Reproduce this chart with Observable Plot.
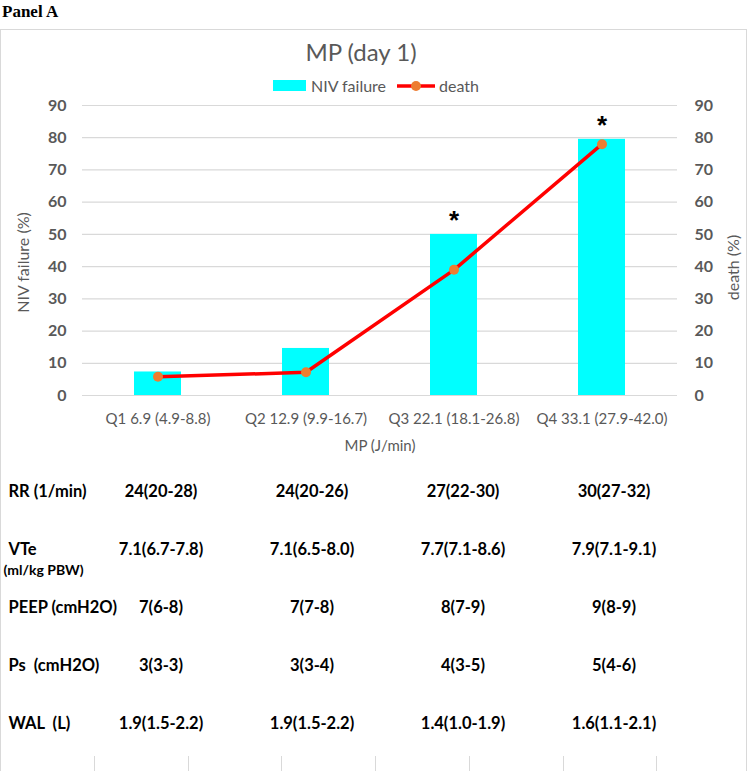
<!DOCTYPE html>
<html>
<head>
<meta charset="utf-8">
<script src="https://cdn.jsdelivr.net/npm/d3@7"></script>
<script src="https://cdn.jsdelivr.net/npm/@observablehq/plot@0.6"></script>
<style>
  body { margin: 0; background: #fff; }
  #root { position: relative; width: 750px; height: 771px; overflow: hidden; background: #fff; font-family: Lato, "Open Sans", sans-serif; }
  .abs { position: absolute; }
  svg { overflow: visible; }
  g[aria-label="y-axis tick label"] text { font-weight: bold; }
</style>
</head>
<body>
<div id="root"></div>
<script>
// ---- data ----
const categories = ["Q1 6.9 (4.9-8.8)", "Q2 12.9 (9.9-16.7)", "Q3 22.1 (18.1-26.8)", "Q4 33.1 (27.9-42.0)"];
const nivFailure = [7.3, 14.6, 50, 79.5];
const death = [5.8, 7.2, 39, 78];
const significance = ["", "", "*", "*"];
const yTicks = [0, 10, 20, 30, 40, 50, 60, 70, 80, 90];

const rowLabels = ["RR (1/min)", "VTe", "PEEP (cmH2O)", "Ps  (cmH2O)", "WAL  (L)"];
const rowSubLabels = ["", "(ml/kg PBW)", "", "", ""];
const rrValues = ["24(20-28)", "24(20-26)", "27(22-30)", "30(27-32)"];
const vteValues = ["7.1(6.7-7.8)", "7.1(6.5-8.0)", "7.7(7.1-8.6)", "7.9(7.1-9.1)"];
const peepValues = ["7(6-8)", "7(7-8)", "8(7-9)", "9(8-9)"];
const psValues = ["3(3-3)", "3(3-4)", "4(3-5)", "5(4-6)"];
const walValues = ["1.9(1.5-2.2)", "1.9(1.5-2.2)", "1.4(1.0-1.9)", "1.6(1.1-2.1)"];
const rowValues = [rrValues, vteValues, peepValues, psValues, walValues];

// ---- tables built from arrays ----
const series = categories.map((c, i) => ({cat: c, niv: nivFailure[i], death: death[i], sig: significance[i]}));
const cells = [];
rowLabels.forEach((r, j) => rowValues[j].forEach((v, i) => cells.push({row: r, cat: categories[i], value: v})));
const labelRows = rowLabels.map((r, j) => ({row: r, sub: rowSubLabels[j]}));

const root = document.getElementById("root");
const gray = "#595959";

function addDiv(html, css) {
  const d = document.createElement("div");
  d.className = "abs";
  d.innerHTML = html;
  Object.assign(d.style, css);
  root.appendChild(d);
  return d;
}

// panel label and chart frame
addDiv("Panel A", {left: "2px", top: "2px", font: "bold 17px 'Liberation Serif', serif", color: "#000"});
addDiv("", {left: "0px", top: "29px", width: "747px", height: "760px", border: "1px solid #d9d9d9", boxSizing: "border-box"});

// title
addDiv("MP (day 1)", {left: "0px", width: "722px", top: "37px", textAlign: "center", font: "24px Lato, sans-serif", color: gray});

// legend
addDiv(
  `<span style="display:inline-block;width:33px;height:11px;background:#00ffff;vertical-align:middle;margin-right:5px"></span>` +
  `<span style="vertical-align:middle">NIV failure</span>` +
  `<svg width="40" height="14" style="vertical-align:middle;margin:0 3px 0 10px"><line x1="1" y1="7" x2="39" y2="7" stroke="#ff0000" stroke-width="3.5"/><circle cx="20" cy="7" r="5" fill="#ed7d31"/></svg>` +
  `<span style="vertical-align:middle">death</span>`,
  {left: "273px", top: "74px", font: "16px Lato, sans-serif", color: gray, whiteSpace: "nowrap"}
);

// ---- main chart ----
const chart = Plot.plot({
  width: 750,
  height: 365,
  marginTop: 10,
  marginBottom: 65,
  marginLeft: 82,
  marginRight: 73,
  style: {fontFamily: "Lato, sans-serif", fontSize: "14px", color: gray, background: "transparent"},
  x: {type: "band", domain: categories, paddingInner: 0.685, paddingOuter: 0.3425},
  y: {domain: [0, 90]},
  marks: [
    Plot.ruleY(yTicks, {stroke: "#d9d9d9", strokeWidth: 1.2}),
    Plot.barY(series, {x: "cat", y: "niv", fill: "#00ffff"}),
    Plot.line(series, {x: "cat", y: "death", stroke: "#ff0000", strokeWidth: 3.5}),
    Plot.dot(series, {x: "cat", y: "death", r: 5, fill: "#ed7d31"}),
    Plot.text(series, {x: "cat", y: "niv", text: "sig", dy: -14, fontSize: 26, fontWeight: "bold", fill: "#000", fontFamily: "'Liberation Sans', sans-serif"}),
    Plot.axisY({anchor: "left", ticks: yTicks, tickSize: 0, tickPadding: 16, label: null, fontSize: 16, fill: gray}),
    Plot.axisY({anchor: "right", ticks: yTicks, tickSize: 0, tickPadding: 17, label: null, fontSize: 16, fill: gray}),
    Plot.axisX({tickSize: 0, tickPadding: 18, label: null, fontSize: 15, fill: gray}),
    Plot.text(["MP (J/min)"], {frameAnchor: "bottom", dy: 55, fontSize: 15, fill: gray}),
    Plot.text(["NIV failure (%)"], {frameAnchor: "left", textAnchor: "middle", dx: -59, dy: 12, rotate: -90, fontSize: 16, fill: gray}),
    Plot.text(["death (%)"], {frameAnchor: "right", textAnchor: "middle", dx: 56, dy: 17, rotate: -90, fontSize: 16, fill: gray})
  ]
});
chart.style.position = "absolute";
chart.style.left = "0px";
chart.style.top = "95px";
root.appendChild(chart);

// ---- table of ventilation parameters ----
const table = Plot.plot({
  width: 750,
  height: 290,
  marginLeft: 83,
  marginRight: 60,
  style: {fontFamily: "Lato, sans-serif", fontSize: "15px", color: "#000", background: "transparent", whiteSpace: "pre"},
  x: {type: "band", domain: categories, padding: 0, axis: null},
  y: {type: "point", domain: rowLabels, range: [25, 258], padding: 0, axis: null},
  marks: [
    Plot.text(cells, {x: "cat", y: "row", text: "value", fontWeight: "bold", fontSize: 16.5, fill: "#000"}),
    Plot.text(labelRows, {y: "row", text: "row", frameAnchor: "left", dx: -75, textAnchor: "start", fontWeight: "bold", fontSize: 16.5, fill: "#000"}),
    Plot.text(labelRows, {y: "row", text: "sub", frameAnchor: "left", dx: -80, dy: 21, textAnchor: "start", fontWeight: "bold", fontSize: 14, fill: "#000"})
  ]
});
table.style.position = "absolute";
table.style.left = "0px";
table.style.top = "465px";
root.appendChild(table);

// faint worksheet cell ticks at the bottom
[94, 188, 281, 375, 469, 563, 656].forEach(x => addDiv("", {left: x + "px", top: "756px", width: "1px", height: "15px", background: "#d9d9d9"}));
</script>
</body>
</html>
